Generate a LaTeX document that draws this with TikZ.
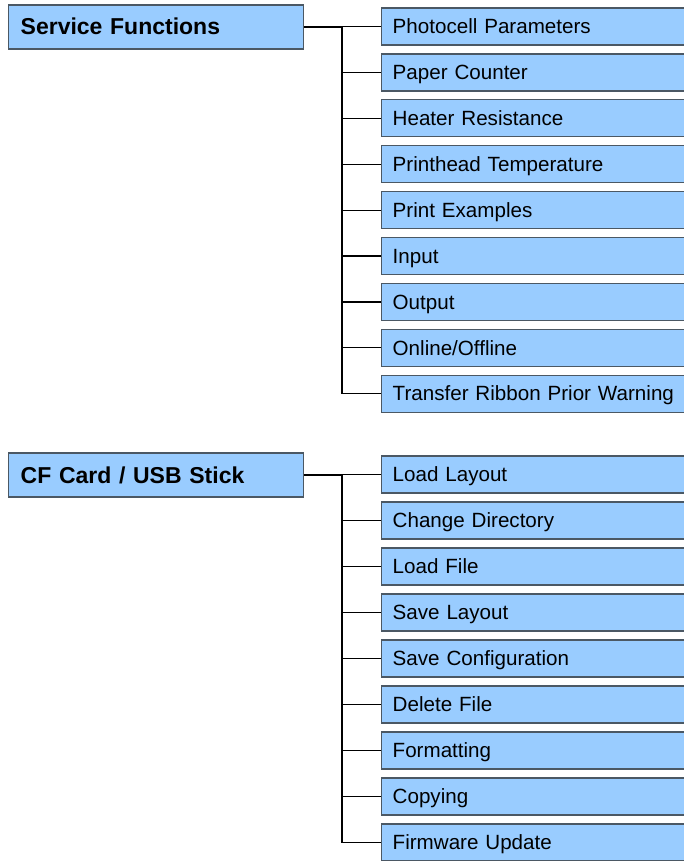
\documentclass[tikz,border=0pt]{standalone}
\usepackage{fontspec}
\setmainfont{Liberation Sans}
\usetikzlibrary{positioning}
\definecolor{menu-blue}{RGB}{153,204,255}
\definecolor{menu-edge}{RGB}{75,88,100}

\begin{document}
\begin{tikzpicture}[x=1pt, y=-1pt,
    head/.style={rectangle, draw=menu-edge, line width=1.4pt, fill=menu-blue, text width=271pt, align=left, inner xsep=12pt, minimum height=44pt, text height=18pt, text depth=2pt, anchor=west, font=\fontsize{23}{27}\selectfont\bfseries},
    item/.style={rectangle, draw=menu-edge, line width=1.4pt, fill=menu-blue, text width=300pt, align=left, inner xsep=11pt, minimum height=37pt, text height=17pt, text depth=2.5pt, anchor=west, font=\fontsize{20.6}{24}\selectfont},
    link/.style={line width=1.2pt, black}]

    \useasboundingbox (0,0) rectangle (684,861);
    \clip (0,0) rectangle (684,861);

    % Service functions - boxes
    \node[head] (service) at (8,27) {Service Functions};
    \node[item] (photo) at (381,26.5) {Photocell Parameters};
    \node[item] (paper) at (381,72.4) {Paper Counter};
    \node[item] (heater) at (381,118.3) {Heater Resistance};
    \node[item] (temp) at (381,164.2) {Printhead Temperature};
    \node[item] (examples) at (381,210.1) {Print Examples};
    \node[item] (input) at (381,256) {Input};
    \node[item] (output) at (381,301.9) {Output};
    \node[item] (online) at (381,347.8) {Online/Offline};
    \node[item] (ribbon) at (381,393.7) {Transfer Ribbon Prior Warning};

    % Service functions - lines
    \coordinate (sjoin) at (342,27);
    \draw[link] (service.east) -- (sjoin);
    \draw[link] (sjoin) |- (photo.west);
    \draw[link] (sjoin) |- (paper.west);
    \draw[link] (sjoin) |- (heater.west);
    \draw[link] (sjoin) |- (temp.west);
    \draw[link] (sjoin) |- (examples.west);
    \draw[link] (sjoin) |- (input.west);
    \draw[link] (sjoin) |- (output.west);
    \draw[link] (sjoin) |- (online.west);
    \draw[link] (sjoin) |- (ribbon.west);

    % CF card - boxes
    \node[head] (card) at (8,475) {CF Card / USB Stick};
    \node[item] (loadlay) at (381,474.5) {Load Layout};
    \node[item] (chdir) at (381,520.5) {Change Directory};
    \node[item] (loadfile) at (381,566.5) {Load File};
    \node[item] (savelay) at (381,612.5) {Save Layout};
    \node[item] (saveconf) at (381,658.5) {Save Configuration};
    \node[item] (delfile) at (381,704.5) {Delete File};
    \node[item] (format) at (381,750.5) {Formatting};
    \node[item] (copy) at (381,796.5) {Copying};
    \node[item] (firmware) at (381,842.5) {Firmware Update};

    % CF card - lines
    \coordinate (cjoin) at (342,475);
    \draw[link, line width=1.8pt] (card.east) -- (cjoin);
    \draw[link] (cjoin) |- (loadlay.west);
    \draw[link] (cjoin) |- (chdir.west);
    \draw[link] (cjoin) |- (loadfile.west);
    \draw[link] (cjoin) |- (savelay.west);
    \draw[link] (cjoin) |- (saveconf.west);
    \draw[link] (cjoin) |- (delfile.west);
    \draw[link] (cjoin) |- (format.west);
    \draw[link] (cjoin) |- (copy.west);
    \draw[link] (cjoin) |- (firmware.west);
\end{tikzpicture}
\end{document}
